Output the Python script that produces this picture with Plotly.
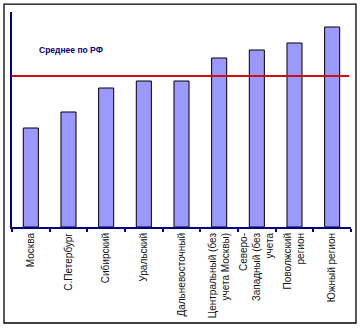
import plotly.graph_objects as go

categories = ["Москва", "С.Петербург", "Сибирский", "Уральский", "Дальневосточный",
              "Центральный (без<br>учета Москвы)", "Северо-<br>Западный (без<br>учета",
              "Поволжский<br>регион", "Южный регион"]
values = [99, 115, 139, 146, 146, 169, 177, 184, 200]
avg_rf = 151
avg_label = "Среднее по РФ"
y_max = 215

navy = "#000080"

fig = go.Figure()
fig.add_trace(go.Bar(
    x=categories, y=values,
    marker=dict(color="#9999FF", line=dict(color="#000000", width=1)),
    showlegend=False, hoverinfo="skip",
))

fig.add_shape(type="line", xref="paper", yref="y", x0=0, x1=0.995, y0=avg_rf, y1=avg_rf,
              line=dict(color="#CC1111", width=2))
# outer border
fig.add_shape(type="rect", xref="paper", yref="paper",
              x0=-0.0236, x1=1.0147, y0=-0.4465, y1=1.037,
              line=dict(color="#000000", width=1.3))

fig.add_annotation(text="<b>" + avg_label + "</b>", xref="paper", yref="paper",
                   x=0.074, y=0.823, xanchor="left", yanchor="middle", showarrow=False,
                   font=dict(family="Liberation Sans, Arial", size=8.5, color=navy))

fig.update_layout(
    width=362, height=328,
    margin=dict(l=12, r=11, t=12, b=101),
    paper_bgcolor="white", plot_bgcolor="white",
    bargap=0.6,
    font=dict(family="Liberation Sans, Arial", size=10, color="#111111"),
    xaxis=dict(type="category", tickangle=-90, showline=True, linecolor=navy, linewidth=2,
               ticks="outside", tickson="boundaries", ticklen=3, tickcolor=navy, tickwidth=1.5,
               showgrid=False, fixedrange=True, tickfont=dict(size=10, color="#111111")),
    yaxis=dict(range=[0, y_max], showline=True, linecolor=navy, linewidth=2,
               showticklabels=False, ticks="", showgrid=False, zeroline=False, fixedrange=True),
)

fig.write_html("out.html", config={"displayModeBar": False})
